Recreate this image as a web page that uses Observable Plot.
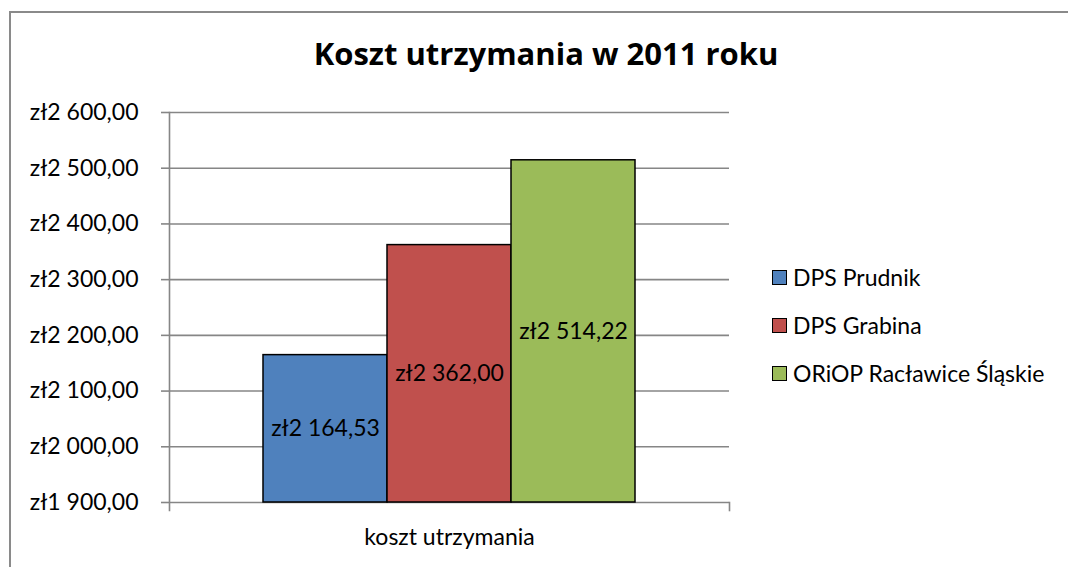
<!DOCTYPE html>
<html>
<head>
<meta charset="utf-8">
<script src="https://cdn.jsdelivr.net/npm/d3@7"></script>
<script src="https://cdn.jsdelivr.net/npm/@observablehq/plot@0.6"></script>
<style>
  html, body { margin: 0; padding: 0; background: #fff; }
  #wrap { position: relative; width: 1068px; height: 567px; overflow: hidden; background: #fff; font-family: Lato, "Open Sans", sans-serif; }
  #border { position: absolute; left: 9px; top: 11px; width: 1100px; height: 600px; border-left: 2px solid #8a8a8a; border-top: 2px solid #8a8a8a; }
  #chart { position: absolute; left: 0; top: 0; }
  #title { position: absolute; left: 0; width: 1092px; top: 38px; line-height: 31px; text-align: center; font-family: "Open Sans", Lato, sans-serif; font-weight: bold; font-size: 31px; color: #000; white-space: nowrap; }
  #legend { position: absolute; left: 772px; top: 253px; }
  .item { display: flex; align-items: center; height: 48px; font-size: 23px; color: #000; white-space: nowrap; }
  .sw { width: 13px; height: 13px; border: 1.5px solid #000; margin-right: 6px; }
</style>
</head>
<body>
<div id="wrap">
  <div id="border"></div>
  <div id="chart"></div>
  <div id="title"></div>
  <div id="legend"></div>
</div>
<script>
const titleText = "Koszt utrzymania w 2011 roku";
const categoryLabel = "koszt utrzymania";
const seriesNames = ["DPS Prudnik", "DPS Grabina", "ORiOP Racławice Śląskie"];
const seriesValues = [2164.53, 2362.00, 2514.22];
const seriesColors = ["#4F81BD", "#C0504D", "#9BBB59"];
const yTicks = [1900, 2000, 2100, 2200, 2300, 2400, 2500, 2600];
const yMin = 1900, yMax = 2600;

const locale = d3.formatLocale({decimal: ",", thousands: " ", grouping: [3], currency: ["zł", ""]});
const fmt = locale.format("$,.2f");

const data = seriesNames.map((name, i) => ({name, value: seriesValues[i]}));

const plot = Plot.plot({
  width: 1068,
  height: 567,
  marginTop: 112,
  marginBottom: 65,
  marginLeft: 169,
  marginRight: 339,
  style: {fontFamily: "Lato, 'Open Sans', sans-serif", fontSize: "23px", color: "#000", background: "transparent"},
  x: {type: "band", domain: seriesNames, paddingInner: 0, paddingOuter: 0.746, axis: null},
  y: {domain: [yMin, yMax], axis: null},
  color: {domain: seriesNames, range: seriesColors},
  marks: [
    Plot.gridY(yTicks, {stroke: "#868686", strokeOpacity: 1, strokeWidth: 1.6}),
    Plot.axisY(yTicks, {tickFormat: fmt, tickSize: 8, tickPadding: 23, stroke: "#868686", strokeWidth: 1.6, fill: "#000", fontSize: 23, label: null}),
    Plot.frame({anchor: "left", stroke: "#868686", strokeWidth: 1.6, insetBottom: -8}),
    Plot.frame({anchor: "right", stroke: "#868686", strokeWidth: 1.6, insetTop: 390, insetBottom: -8}),
    Plot.barY(data, {x: "name", y1: yMin, y2: "value", fill: "name", stroke: "#000", strokeWidth: 1.5}),
    Plot.text(data, {x: "name", y: d => (d.value + yMin) / 2, text: d => fmt(d.value), fontSize: 23, fill: "#000"}),
    Plot.text([categoryLabel], {frameAnchor: "bottom", lineAnchor: "middle", dy: 35, text: d => d, fontSize: 23, fill: "#000"})
  ]
});
document.getElementById("chart").appendChild(plot);

document.getElementById("title").textContent = titleText;
const legend = document.getElementById("legend");
seriesNames.forEach((name, i) => {
  const item = document.createElement("div");
  item.className = "item";
  const sw = document.createElement("div");
  sw.className = "sw";
  sw.style.background = seriesColors[i];
  const label = document.createElement("span");
  label.textContent = name;
  item.appendChild(sw);
  item.appendChild(label);
  legend.appendChild(item);
});
</script>
</body>
</html>
